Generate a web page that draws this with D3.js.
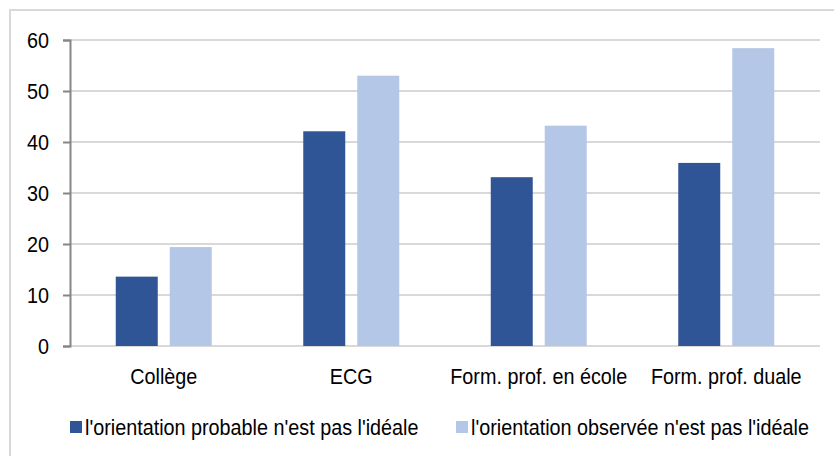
<!DOCTYPE html>
<html>
<head>
<meta charset="utf-8">
<script src="https://cdn.jsdelivr.net/npm/d3@7"></script>
<style>
  html, body { margin: 0; padding: 0; background: #fff; }
  svg { display: block; }
  text { font-family: "Liberation Sans", Arial, sans-serif; fill: #000; }
</style>
</head>
<body>
<svg id="chart" width="834" height="456"></svg>
<script>
const categories = ["Collège", "ECG", "Form. prof. en école", "Form. prof. duale"];
const seriesNames = ["l'orientation probable n'est pas l'idéale", "l'orientation observée n'est pas l'idéale"];
const probable = [13.6, 42.1, 33.1, 35.9];
const observee = [19.4, 53.0, 43.2, 58.4];
const yTicks = [0, 10, 20, 30, 40, 50, 60];
const colors = ["#2f5597", "#b4c7e7"];

(function () {
const svg = d3.select("#chart");
const W = 834, H = 456;
const mLeft = 70, mRight = 820, mTop = 40, mBottom = 346;
const FS = 22, SX = 0.9;

// outer frame
svg.append("rect").attr("x", 10).attr("y", 10).attr("width", W + 20).attr("height", H + 20)
  .attr("fill", "none").attr("stroke", "#d9d9d9").attr("stroke-width", 2);

const y = d3.scaleLinear().domain([0, 60]).range([mBottom, mTop]);
const x0 = d3.scaleBand().domain(categories).range([mLeft, mRight]).paddingInner(0).paddingOuter(0);
const x1 = d3.scaleBand().domain([0, 1]).range([-48, 48]).paddingInner(12 / 54).paddingOuter(0);

// gridlines
svg.append("g").selectAll("line").data(yTicks).join("line")
  .attr("x1", mLeft).attr("x2", mRight)
  .attr("y1", d => y(d)).attr("y2", d => y(d))
  .attr("stroke", "#d9d9d9").attr("stroke-width", 2);

// y axis
const yAxis = d3.axisLeft(y).tickValues(yTicks).tickSize(7).tickPadding(13).tickFormat(d3.format("d"));
const gy = svg.append("g").attr("transform", `translate(${mLeft},0)`).call(yAxis);
gy.select(".domain").attr("stroke", "#868686").attr("stroke-width", 2);
gy.selectAll(".tick line").attr("stroke", "#868686").attr("stroke-width", 2);
gy.selectAll(".tick text").attr("font-size", FS).attr("fill", "#000")
  .attr("font-family", "'Liberation Sans', Arial, sans-serif")
  .attr("x", -21 / SX)
  .attr("dy", "0.36em")
  .attr("transform", `scale(${SX},1)`);

// bars
const data = categories.map((c, i) => ({ c, vals: [probable[i], observee[i]] }));
const groups = svg.append("g").selectAll("g").data(data).join("g")
  .attr("transform", d => `translate(${x0(d.c) + x0.bandwidth() / 2},0)`);
groups.selectAll("rect").data(d => d.vals.map((v, k) => ({ v, k }))).join("rect")
  .attr("x", d => x1(d.k))
  .attr("width", x1.bandwidth())
  .attr("y", d => y(d.v))
  .attr("height", d => y(0) - y(d.v))
  .attr("fill", d => colors[d.k]);

// category labels
svg.append("g").selectAll("text").data(categories).join("text")
  .attr("transform", d => `translate(${x0(d) + x0.bandwidth() / 2},384) scale(${SX},1)`)
  .attr("text-anchor", "middle")
  .attr("font-size", FS)
  .text(d => d);

// legend
const legendX = [70, 456];
const lg = svg.append("g").selectAll("g").data(seriesNames).join("g")
  .attr("transform", (d, i) => `translate(${legendX[i]},421)`);
lg.append("rect").attr("width", 12).attr("height", 12).attr("fill", (d, i) => colors[i]);
lg.append("text").attr("transform", `translate(15,14) scale(${SX},1)`).attr("font-size", FS).text(d => d);
})();
</script>
</body>
</html>
